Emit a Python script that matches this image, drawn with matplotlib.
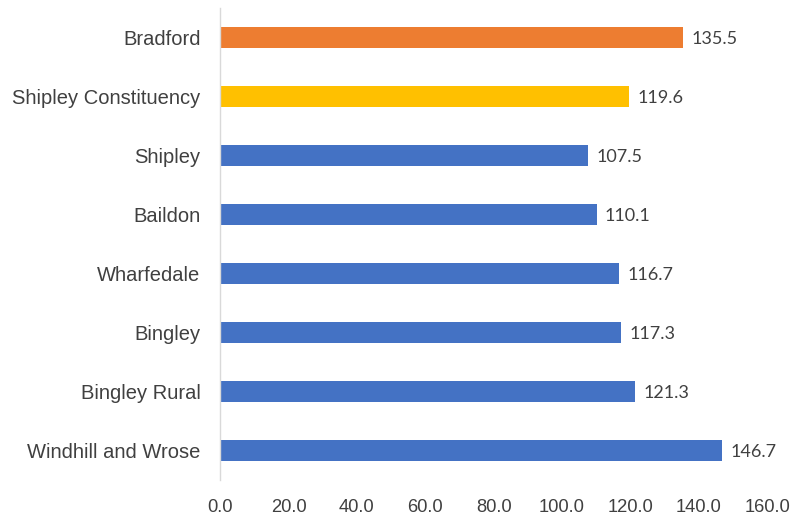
import matplotlib.pyplot as plt
import numpy as np

categories = ["Windhill and Wrose", "Bingley Rural", "Bingley", "Wharfedale",
              "Baildon", "Shipley", "Shipley Constituency", "Bradford"]
values = [146.7, 121.3, 117.3, 116.7, 110.1, 107.5, 119.6, 135.5]
colors = ["#4472C4"] * 6 + ["#FFC000", "#ED7D31"]
ticks = np.arange(0, 161, 20)

fig = plt.figure(figsize=(7.93, 5.2), dpi=100)
ax = fig.add_axes([0.2775, 0.077, 0.690, 0.908])

y = np.arange(len(categories))
ax.barh(y, values, height=0.36, color=colors)
ax.set_xlim(0, 160)
ax.set_ylim(-0.5, len(categories) - 0.5)
ax.set_yticks(y)
ax.set_yticklabels(categories, fontsize=14.5, color="#404040", family="Liberation Sans")
ax.set_xticks(ticks)
ax.set_xticklabels([f"{t:.1f}" for t in ticks], fontsize=13.2, color="#404040",
                   family="Liberation Sans")
ax.tick_params(axis="both", length=0)
ax.tick_params(axis="y", pad=14)
ax.tick_params(axis="x", pad=14)

for s in ["top", "right", "bottom"]:
    ax.spines[s].set_visible(False)
ax.spines["left"].set_color("#D9D9D9")
ax.spines["left"].set_linewidth(1)

for yi, v in zip(y, values):
    ax.annotate(f"{v:.1f}", (v, yi), xytext=(6, -1), textcoords="offset points",
                va="center", ha="left", fontsize=13, color="#404040", family="Lato")

fig.savefig("out.png", dpi=100)
